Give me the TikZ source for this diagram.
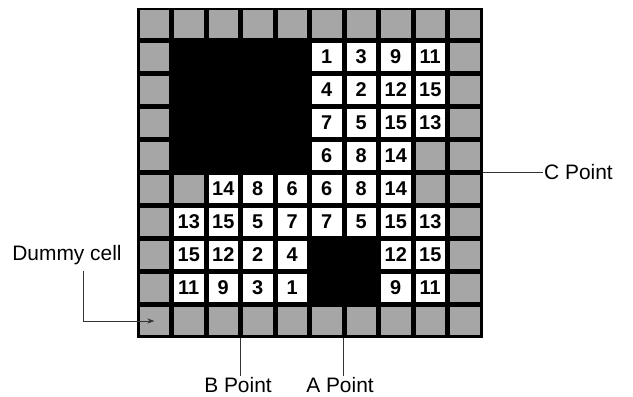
\documentclass[tikz,border=0pt]{standalone}
\usepackage{fontspec}
\setmainfont{Liberation Sans}
\usetikzlibrary{arrows.meta, calc}
\tikzset{
  cellbox/.style={minimum width=29.5bp, minimum height=28bp, inner sep=0pt, outer sep=0pt},
  graycell/.style={cellbox, fill=black!35},
  whitecell/.style={cellbox, fill=white, font=\fontsize{20}{20}\selectfont\bfseries},
  pointlabel/.style={font=\fontsize{21}{21}\selectfont, inner sep=1pt},
  leader/.style={draw=black!80, line width=0.6bp}
}
\newcommand*\cellgray{g}
\newcommand*\cellblack{k}

\begin{document}
\begin{tikzpicture}[x=1bp, y=-1bp, >={Stealth[length=2.4mm]}]
  \useasboundingbox (0,0) rectangle (633,396);
  % black board behind the cells
  \fill (137,8) rectangle (483,338);
  % cells row by row: g = gray, k = left black, number = white cell
  \foreach \rowcells [count=\j from 0] in {
    {g,g,g,g,g,g,g,g,g,g},
    {g,k,k,k,k,1,3,9,11,g},
    {g,k,k,k,k,4,2,12,15,g},
    {g,k,k,k,k,7,5,15,13,g},
    {g,k,k,k,k,6,8,14,g,g},
    {g,g,14,8,6,6,8,14,g,g},
    {g,13,15,5,7,7,5,15,13,g},
    {g,15,12,2,4,k,k,12,15,g},
    {g,11,9,3,1,k,k,9,11,g},
    {g,g,g,g,g,g,g,g,g,g}} {
    \foreach \val [count=\i from 0] in \rowcells {
      \edef\cur{\val}
      \ifx\cur\cellgray
        \node[graycell] (c-\j-\i) at (154.25+34.5*\i, 24+33*\j) {};
      \else\ifx\cur\cellblack
        \coordinate (c-\j-\i) at (154.25+34.5*\i, 24+33*\j);
      \else
        \node[whitecell] (c-\j-\i) at (154.25+34.5*\i, 24+33*\j) {\val};
      \fi\fi
    }
  }
  % labels
  \node[pointlabel] (dummy) at (67,255) {Dummy cell};
  \node[pointlabel, anchor=west] (cpoint) at (543,172.5) {C Point};
  \node[pointlabel] (bpoint) at (238,385) {B Point};
  \node[pointlabel] (apoint) at (340,385) {A Point};
  % leader lines
  \coordinate (bfoot) at (240.5,338);
  \coordinate (afoot) at (343,338);
  \coordinate (cfoot) at (483,172.5);
  \draw[leader] (bfoot) -- (bfoot |- bpoint.north);
  \draw[leader] (afoot) -- (afoot |- apoint.north);
  \draw[leader] (cfoot) -- (cpoint.west);
  \draw[leader, ->] ([xshift=16bp, yshift=-5bp]dummy.south) |- (c-9-0.center);
\end{tikzpicture}
\end{document}
